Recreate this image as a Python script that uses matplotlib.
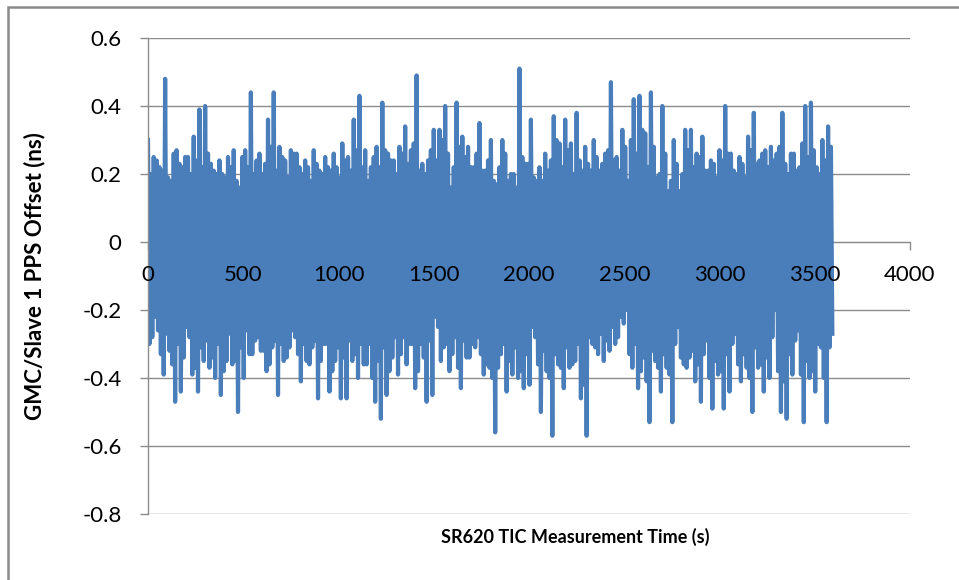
import numpy as np
import matplotlib
matplotlib.use("Agg")
import matplotlib.pyplot as plt
from matplotlib.patches import Rectangle

# Sample spacing (s) of the values
step = 7.5

# Main peak (upper) values, one per 30 s slot
upper = [0.30, 0.25, 0.22, 0.48, 0.18, 0.27, 0.22, 0.25, 0.31, 0.39,
         0.40, 0.23, 0.20, 0.20, 0.25, 0.27, 0.16, 0.27, 0.44, 0.24,
         0.20, 0.36, 0.44, 0.28, 0.24, 0.27, 0.26, 0.20, 0.22, 0.27,
         0.21, 0.25, 0.21, 0.22, 0.29, 0.25, 0.36, 0.43, 0.27, 0.22,
         0.28, 0.41, 0.26, 0.24, 0.28, 0.34, 0.27, 0.49, 0.23, 0.24,
         0.33, 0.33, 0.40, 0.16, 0.41, 0.31, 0.28, 0.22, 0.35, 0.21,
         0.30, 0.17, 0.30, 0.18, 0.20, 0.51, 0.23, 0.36, 0.18, 0.18,
         0.21, 0.37, 0.29, 0.36, 0.29, 0.38, 0.21, 0.23, 0.30, 0.21,
         0.26, 0.47, 0.25, 0.33, 0.18, 0.42, 0.43, 0.32, 0.44, 0.19,
         0.40, 0.15, 0.30, 0.15, 0.33, 0.33, 0.26, 0.31, 0.21, 0.23,
         0.27, 0.40, 0.26, 0.20, 0.23, 0.31, 0.38, 0.24, 0.27, 0.28,
         0.26, 0.38, 0.20, 0.26, 0.22, 0.40, 0.41, 0.22, 0.30, 0.34]

# Secondary (fringe) upper values, one per 30 s slot
upper2 = [0.20, 0.24, 0.21, 0.19, 0.26, 0.23, 0.25, 0.20, 0.24, 0.22,
          0.26, 0.21, 0.24, 0.19, 0.22, 0.18, 0.25, 0.22, 0.20, 0.26,
          0.23, 0.28, 0.21, 0.25, 0.19, 0.26, 0.22, 0.24, 0.18, 0.23,
          0.20, 0.22, 0.26, 0.19, 0.24, 0.21, 0.27, 0.22, 0.18, 0.25,
          0.22, 0.27, 0.24, 0.20, 0.26, 0.23, 0.29, 0.21, 0.20, 0.27,
          0.24, 0.30, 0.26, 0.22, 0.28, 0.25, 0.22, 0.26, 0.21, 0.24,
          0.18, 0.22, 0.26, 0.20, 0.16, 0.25, 0.23, 0.19, 0.22, 0.26,
          0.24, 0.30, 0.22, 0.27, 0.20, 0.24, 0.28, 0.21, 0.25, 0.23,
          0.27, 0.24, 0.21, 0.28, 0.30, 0.26, 0.33, 0.22, 0.28, 0.20,
          0.26, 0.18, 0.23, 0.20, 0.27, 0.22, 0.25, 0.21, 0.24, 0.19,
          0.24, 0.26, 0.21, 0.25, 0.19, 0.27, 0.23, 0.26, 0.22, 0.24,
          0.28, 0.23, 0.26, 0.21, 0.29, 0.25, 0.27, 0.20, 0.24, 0.28]

# Main trough (lower) values, one per 30 s slot
lower = [-0.28, -0.26, -0.39, -0.32, -0.47, -0.44, -0.25, -0.39, -0.44, -0.35,
         -0.37, -0.40, -0.45, -0.35, -0.36, -0.50, -0.40, -0.33, -0.29, -0.32,
         -0.38, -0.31, -0.45, -0.35, -0.31, -0.28, -0.41, -0.35, -0.31, -0.46,
         -0.30, -0.44, -0.35, -0.46, -0.46, -0.35, -0.40, -0.36, -0.30, -0.47,
         -0.52, -0.45, -0.34, -0.39, -0.28, -0.30, -0.43, -0.30, -0.47, -0.45,
         -0.25, -0.31, -0.38, -0.28, -0.43, -0.34, -0.30, -0.28, -0.39, -0.37,
         -0.56, -0.33, -0.44, -0.39, -0.40, -0.43, -0.42, -0.28, -0.50, -0.38,
         -0.57, -0.36, -0.43, -0.37, -0.35, -0.46, -0.57, -0.30, -0.33, -0.35,
         -0.32, -0.30, -0.22, -0.20, -0.37, -0.43, -0.34, -0.53, -0.35, -0.44,
         -0.37, -0.53, -0.25, -0.36, -0.34, -0.41, -0.47, -0.29, -0.49, -0.39,
         -0.49, -0.44, -0.27, -0.41, -0.37, -0.50, -0.37, -0.44, -0.40, -0.20,
         -0.50, -0.52, -0.39, -0.26, -0.53, -0.40, -0.44, -0.31, -0.53, -0.27]

# Secondary (fringe) lower values, one per 30 s slot
lower2 = [-0.30, -0.22, -0.33, -0.27, -0.36, -0.30, -0.34, -0.28, -0.37, -0.31,
          -0.29, -0.34, -0.30, -0.38, -0.27, -0.35, -0.31, -0.26, -0.33, -0.28,
          -0.32, -0.36, -0.29, -0.30, -0.34, -0.26, -0.33, -0.30, -0.36, -0.29,
          -0.35, -0.30, -0.38, -0.31, -0.34, -0.29, -0.33, -0.30, -0.36, -0.40,
          -0.35, -0.31, -0.38, -0.28, -0.33, -0.36, -0.30, -0.38, -0.34, -0.29,
          -0.22, -0.35, -0.30, -0.33, -0.37, -0.29, -0.34, -0.31, -0.33, -0.36,
          -0.40, -0.37, -0.30, -0.35, -0.31, -0.38, -0.33, -0.25, -0.36, -0.32,
          -0.40, -0.33, -0.37, -0.31, -0.36, -0.30, -0.42, -0.28, -0.31, -0.27,
          -0.29, -0.25, -0.28, -0.24, -0.33, -0.30, -0.38, -0.41, -0.32, -0.37,
          -0.33, -0.39, -0.30, -0.34, -0.37, -0.32, -0.36, -0.33, -0.40, -0.35,
          -0.38, -0.33, -0.30, -0.36, -0.33, -0.40, -0.31, -0.36, -0.34, -0.28,
          -0.38, -0.41, -0.33, -0.29, -0.39, -0.35, -0.38, -0.30, -0.40, -0.31]

xticks = [0, 500, 1000, 1500, 2000, 2500, 3000, 3500, 4000]
yticks = [-0.8, -0.6, -0.4, -0.2, 0, 0.2, 0.4, 0.6]
xlabel = "SR620 TIC Measurement Time (s)"
ylabel = "GMC/Slave 1 PPS Offset (ns)"

values = np.column_stack([upper, lower2, upper2, lower]).ravel()
t = np.arange(len(values)) * step

W, H = 959, 580
fig = plt.figure(figsize=(W / 100, H / 100), dpi=100)
plt.rcParams['font.family'] = ['Lato', 'DejaVu Sans']

# outer chart border
fig.patches.append(Rectangle((8 / W, -0.05), 1.2, 1 - 7 / H + 0.05,
                             transform=fig.transFigure, fill=False,
                             edgecolor='#8a8a8a', lw=1.8))

ax = fig.add_axes([148 / W, 1 - 514 / H, (910 - 148) / W, (514 - 38) / H])
ax.set_xlim(0, 4000)
ax.set_ylim(-0.8, 0.6)

grid_c = '#8c8c8c'
for yv in yticks:
    ax.axhline(yv, color=grid_c, lw=1.0, zorder=1)

ax.plot(t, values, color='#4a7ebb', lw=3.0, zorder=2, solid_joinstyle='round')

for s in ['top', 'right']:
    ax.spines[s].set_visible(False)
ax.spines['bottom'].set_position(('data', 0))
ax.spines['bottom'].set_color(grid_c)
ax.spines['bottom'].set_zorder(1)
ax.spines['left'].set_color(grid_c)
ax.spines['left'].set_linewidth(1.0)

ax.set_yticks(yticks)
ax.set_yticklabels([f"{v:g}" for v in yticks])
ax.tick_params(axis='y', direction='out', length=6, width=1, color=grid_c,
               pad=13, labelsize=16, labelcolor='black')

ax.set_xticks(xticks)
ax.set_xticklabels([])
ax.xaxis.set_zorder(0.5)
ax.tick_params(axis='x', direction='out', length=6, width=1, color=grid_c)
for xv in xticks:
    ax.annotate(f"{xv}", xy=(xv, 0), xycoords='data', xytext=(0, -24),
                textcoords='offset points', ha='center', va='center',
                fontsize=16, color='black', zorder=5)

fig.text(575 / W, 1 - 537 / H, xlabel, ha='center', va='center',
         fontsize=13, fontweight='bold')
fig.text(35 / W, 1 - 276 / H, ylabel, ha='center', va='center',
         rotation=90, fontsize=16, fontweight='bold')

fig.savefig('out.png', dpi=100)
